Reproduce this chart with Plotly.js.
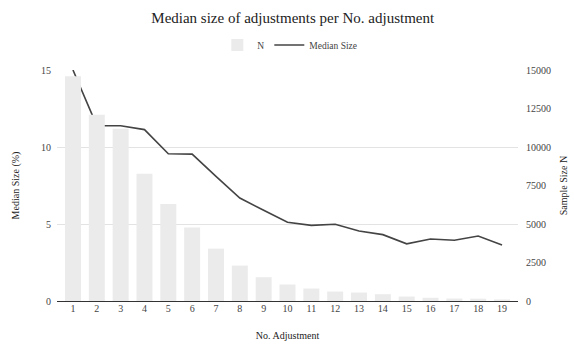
<!DOCTYPE html>
<html>
<head>
<meta charset="utf-8">
<script src="https://cdn.plot.ly/plotly-3.0.1.min.js"></script>
<style>
  html, body { margin: 0; padding: 0; background: #fff; }
  #chart { width: 574px; height: 345px; }
</style>
</head>
<body>
<div id="chart"></div>
<script>
// Adjustment number (category axis)
const adjustments = [1, 2, 3, 4, 5, 6, 7, 8, 9, 10, 11, 12, 13, 14, 15, 16, 17, 18, 19];
// Sample size N per adjustment number (right axis)
const sampleSize = [14600, 12100, 11180, 8260, 6300, 4780, 3400, 2300, 1545, 1070, 810, 615, 550, 440, 290, 210, 160, 150, 100];
// Median size of adjustment in % (left axis)
const medianSize = [15.0, 11.39, 11.38, 11.13, 9.56, 9.54, 8.09, 6.69, 5.89, 5.11, 4.91, 4.98, 4.55, 4.31, 3.71, 4.03, 3.94, 4.22, 3.64];
// Axis ticks
const leftTicks = [0, 5, 10, 15];
const rightTicks = [0, 2500, 5000, 7500, 10000, 12500, 15000];

const serif = 'Liberation Serif';

const traces = [
  {
    type: 'bar',
    name: 'N',
    x: adjustments,
    y: sampleSize,
    yaxis: 'y2',
    width: 0.67,
    marker: { color: '#ebebeb', line: { width: 0 } },
    hoverinfo: 'x+y'
  },
  {
    type: 'scatter',
    mode: 'lines',
    name: 'Median Size',
    x: adjustments,
    y: medianSize,
    yaxis: 'y',
    line: { color: '#444444', width: 1.6 },
    cliponaxis: false
  }
];

const layout = {
  width: 574,
  height: 345,
  margin: { l: 57, r: 56, t: 70, b: 43.5, pad: 0 },
  paper_bgcolor: '#ffffff',
  plot_bgcolor: '#ffffff',
  font: { family: serif, color: '#444444', size: 10 },
  title: {
    text: 'Median size of adjustments per No. adjustment',
    font: { family: serif, size: 15, color: '#222222' },
    x: 0.51, xanchor: 'center',
    y: 1 - 18 / 345, yanchor: 'middle'
  },
  showlegend: true,
  legend: {
    orientation: 'h',
    x: 0.505, xanchor: 'center',
    yref: 'container', y: 1 - 45 / 345, yanchor: 'middle',
    font: { family: serif, size: 9.5, color: '#444444' },
    itemwidth: 30,
    traceorder: 'normal'
  },
  bargap: 0.33,
  xaxis: {
    range: [0.33, 19.67],
    tickvals: adjustments,
    ticktext: adjustments.map(String),
    showgrid: false,
    zeroline: false,
    showline: false,
    ticks: '',
    tickfont: { family: serif, size: 10, color: '#444444' },
    title: { text: 'No. Adjustment', font: { family: serif, size: 10, color: '#222222' }, standoff: 18 },
    automargin: false
  },
  yaxis: {
    range: [0, 15],
    tickvals: leftTicks,
    ticktext: leftTicks.map(String),
    showgrid: true,
    gridcolor: '#e3e3e3',
    gridwidth: 1,
    zeroline: true,
    zerolinecolor: '#333333',
    zerolinewidth: 1,
    ticks: '',
    ticklabelstandoff: 5,
    tickfont: { family: serif, size: 10, color: '#444444' },
    title: { text: 'Median Size (%)', font: { family: serif, size: 10, color: '#222222' }, standoff: 19 },
    automargin: false
  },
  yaxis2: {
    overlaying: 'y',
    side: 'right',
    range: [0, 15000],
    tickvals: rightTicks,
    ticktext: rightTicks.map(String),
    showgrid: false,
    zeroline: false,
    ticks: '',
    ticklabelstandoff: 7,
    tickfont: { family: serif, size: 10, color: '#444444' },
    title: { text: 'Sample Size N', font: { family: serif, size: 10, color: '#222222' }, standoff: 9 },
    automargin: false
  }
};

Plotly.newPlot('chart', traces, layout, { displayModeBar: false, responsive: false, staticPlot: true });
</script>
</body>
</html>
